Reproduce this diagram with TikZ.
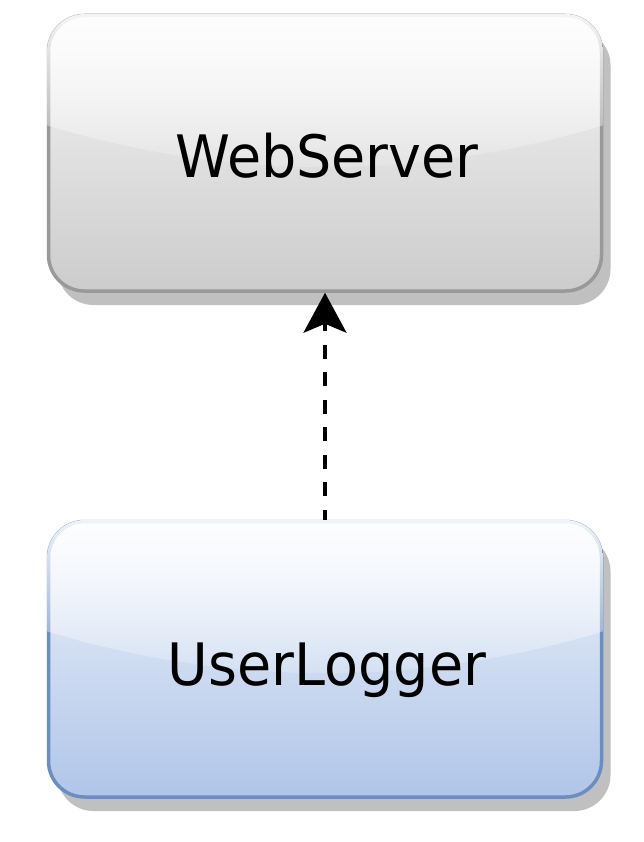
\documentclass[tikz,border=0pt]{standalone}
\usepackage{fontspec}
\setmainfont{DejaVu Sans}
\newfontfamily\labelfont[FakeStretch=0.95]{DejaVu Sans}
\usetikzlibrary{arrows.meta,fadings,shadows}
\tikzfading[name=glassfade, top color=transparent!10, bottom color=transparent!90]
\definecolor{grayTop}{HTML}{F5F5F5}
\definecolor{grayBot}{HTML}{CCCCCC}
\definecolor{grayLine}{HTML}{999999}
\definecolor{blueTop}{HTML}{EEF4FB}
\definecolor{blueBot}{HTML}{B0C5E8}
\definecolor{blueLine}{HTML}{6C8EBF}
\definecolor{shadowGray}{HTML}{C0C0C0}
% glass overlay: #1 left, #2 top, #3 width, #4 height (outer, canvas units)
\newcommand\glassover[4]{%
  \pgfmathsetmacro\gxr{#1+#3}%
  \pgfmathsetmacro\gyb{#2+0.4*#4}%
  \pgfmathsetmacro\gyf{#2+0.6*#4}%
  \pgfmathsetmacro\gca{#1+#3/3}%
  \pgfmathsetmacro\gcb{#1+2*#3/3}%
  \pgfmathsetmacro\gcy{#2+0.6*#4}%
  \begin{scope}
    \clip[rounded corners=37.5pt] (#1,#2) rectangle (\gxr,#2+#4);
    \clip (#1,#2) -- (#1,\gyb) .. controls (\gca,\gcy) and (\gcb,\gcy) .. (\gxr,\gyb) -- (\gxr,#2) -- cycle;
    \fill[white, path fading=glassfade] (#1,#2) rectangle (\gxr,\gyf);
  \end{scope}}
\begin{document}
\begin{tikzpicture}[x=1pt,y=-1pt,
  boxbase/.style={rounded corners=36pt, minimum width=553pt, minimum height=275.5pt,
    inner sep=0pt, line width=3.5pt,
    drop shadow={shadow xshift=9pt, shadow yshift=-14pt, fill=shadowGray, opacity=1}},
  graybox/.style={boxbase, draw=grayLine, top color=grayTop, bottom color=grayBot},
  bluebox/.style={boxbase, draw=blueLine, top color=blueTop, bottom color=blueBot},
  lbl/.style={font=\labelfont\fontsize{58.5}{60}\selectfont, inner sep=0pt, anchor=base, text=black},
  conn/.style={line width=3.3pt, dash pattern=on 14pt off 13.5pt, dash phase=4pt,
    -{Stealth[length=40pt, width=43pt, inset=9pt]}}]
\useasboundingbox (0,0) rectangle (644,842);
\fill[white] (0,0) rectangle (644,842);

\node[graybox] (web) at (325,153.25) {};
\glassover{47}{14}{556}{278.5}
\node[lbl] (webtxt) at (327,178) {WebServer};

\node[bluebox] (ul) at (325,659.25) {};
\glassover{47}{520}{556}{278.5}
\node[lbl] (ultxt) at (327,685) {UserLogger};

\draw[conn] (ul.north) -- (web.south);
\end{tikzpicture}
\end{document}
